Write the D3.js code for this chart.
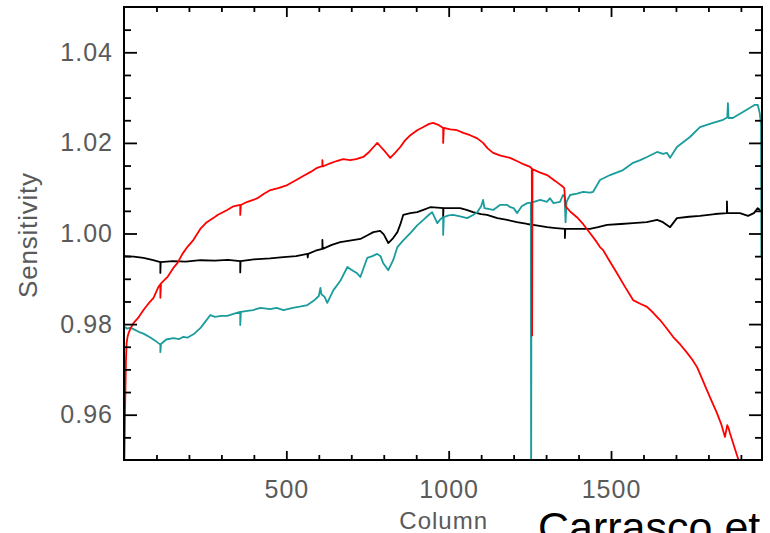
<!DOCTYPE html>
<html><head><meta charset="utf-8">
<script src="https://cdn.jsdelivr.net/npm/d3@7"></script>
<style>body{margin:0;background:#fff} svg{display:block}</style>
</head><body><svg id="chart" width="770" height="533"></svg>
<script>
// ---- data: [column, sensitivity] ----
const blackSeries = [
 [1,0.9950],[30,0.9949],[60,0.9946],[90,0.9941],[112,0.9937],[112,0.9913],[113,0.9937],[150,0.9939],
 [190,0.9938],[235,0.9941],[280,0.9940],[320,0.9942],[358,0.9939],[358,0.9914],[359,0.9939],[400,0.9943],
 [450,0.9945],[491,0.9948],[530,0.9950],[565,0.9955],[566,0.9947],[567,0.9955],[590,0.9962],[611,0.9966],
 [611,0.9986],[612,0.9966],[640,0.9975],[666,0.9981],[700,0.9985],[728,0.9988],[750,0.9996],[768,1.0003],
 [789,1.0006],[800,0.9998],[814,0.9979],[829,0.9990],[842,1.0003],[851,1.0020],[860,1.0041],[882,1.0045],
 [903,1.0047],[922,1.0052],[943,1.0058],[965,1.0057],[983,1.0056],[983,1.0036],[984,1.0056],[1010,1.0056],
 [1035,1.0056],[1055,1.0052],[1075,1.0047],[1100,1.0043],[1118,1.0041],[1150,1.0034],[1180,1.0030],
 [1210,1.0025],[1242,1.0021],[1270,1.0018],[1303,1.0014],[1330,1.0012],[1358,1.0010],[1358,0.9990],
 [1359,1.0010],[1395,1.0010],[1435,1.0010],[1460,1.0014],[1488,1.0019],[1530,1.0021],[1568,1.0023],
 [1610,1.0025],[1642,1.0030],[1660,1.0025],[1682,1.0014],[1703,1.0034],[1740,1.0037],[1774,1.0039],
 [1820,1.0043],[1857,1.0045],[1857,1.0071],[1858,1.0045],[1897,1.0045],[1922,1.0039],[1940,1.0045],
 [1952,1.0056],[1962,1.0050]
];
const tealSeries = [
 [1,0.9794],[10,0.9790],[20,0.9792],[29,0.9789],[45,0.9783],[60,0.9779],[80,0.9771],[95,0.9764],
 [106,0.9758],[112,0.9755],[112,0.9738],[114,0.9756],[130,0.9766],[152,0.9769],[170,0.9767],[183,0.9772],
 [195,0.9770],[215,0.9778],[235,0.9791],[250,0.9805],[266,0.9820],[280,0.9816],[300,0.9818],[318,0.9818],
 [340,0.9823],[358,0.9827],[358,0.9798],[360,0.9827],[380,0.9829],[398,0.9831],[420,0.9836],[450,0.9833],
 [470,0.9836],[491,0.9831],[520,0.9836],[545,0.9839],[565,0.9842],[585,0.9852],[600,0.9862],[605,0.9880],
 [608,0.9866],[618,0.9860],[626,0.9847],[645,0.9875],[666,0.9895],[688,0.9926],[705,0.9918],[718,0.9912],
 [728,0.9904],[749,0.9946],[765,0.9950],[780,0.9955],[790,0.9950],[798,0.9935],[814,0.9919],[829,0.9941],
 [842,0.9970],[860,0.9985],[882,1.0001],[903,1.0018],[922,1.0030],[940,1.0042],[949,1.0047],[965,1.0023],
 [975,1.0032],[983,1.0036],[983,0.9997],[985,1.0036],[1000,1.0040],[1014,1.0041],[1035,1.0038],
 [1057,1.0034],[1075,1.0041],[1088,1.0047],[1100,1.0060],[1106,1.0074],[1110,1.0056],[1137,1.0052],
 [1158,1.0063],[1180,1.0063],[1190,1.0058],[1200,1.0056],[1211,1.0045],[1225,1.0060],[1242,1.0067],
 [1253,1.0068],[1254,0.9400],[1255,1.0068],[1282,1.0074],[1303,1.0070],[1312,1.0078],[1323,1.0067],
 [1343,1.0070],[1352,1.0085],[1357,1.0080],[1360,1.0025],[1363,1.0070],[1374,1.0085],[1395,1.0088],
 [1414,1.0092],[1435,1.0090],[1445,1.0092],[1466,1.0118],[1497,1.0129],[1537,1.0140],[1568,1.0156],
 [1590,1.0162],[1611,1.0169],[1642,1.0180],[1660,1.0176],[1672,1.0178],[1682,1.0167],[1703,1.0191],
 [1743,1.0213],[1774,1.0235],[1814,1.0244],[1845,1.0251],[1858,1.0256],[1860,1.0288],[1862,1.0255],
 [1875,1.0255],[1918,1.0273],[1943,1.0284],[1952,1.0284],[1958,1.0266],[1962,1.0240],[1963,0.9948]
];
const redSeries = [
 [0,0.9440],[3,0.9600],[6,0.9720],[8,0.9758],[11,0.9772],[14,0.9780],[20,0.9790],[29,0.9802],[45,0.9815],
 [60,0.9831],[75,0.9845],[91,0.9858],[106,0.9882],[112,0.9888],[112,0.9858],[114,0.9890],[135,0.9905],
 [152,0.9924],[165,0.9935],[180,0.9955],[195,0.9970],[214,0.9986],[235,1.0010],[255,1.0025],[275,1.0034],
 [288,1.0041],[318,1.0052],[337,1.0060],[358,1.0063],[358,1.0041],[360,1.0063],[380,1.0070],[398,1.0074],
 [411,1.0078],[430,1.0087],[451,1.0096],[475,1.0100],[503,1.0107],[525,1.0116],[552,1.0127],[575,1.0136],
 [595,1.0145],[611,1.0149],[611,1.0162],[612,1.0148],[635,1.0155],[655,1.0160],[675,1.0164],[697,1.0162],
 [715,1.0164],[737,1.0169],[755,1.0180],[770,1.0192],[780,1.0200],[790,1.0192],[805,1.0180],[820,1.0167],
 [835,1.0178],[851,1.0191],[865,1.0205],[882,1.0217],[903,1.0228],[922,1.0235],[940,1.0242],[952,1.0244],
 [968,1.0240],[983,1.0233],[983,1.0200],[985,1.0233],[1005,1.0230],[1026,1.0228],[1045,1.0222],
 [1066,1.0217],[1088,1.0210],[1106,1.0200],[1120,1.0188],[1137,1.0178],[1160,1.0172],[1189,1.0167],
 [1210,1.0160],[1230,1.0153],[1251,1.0147],[1256,1.0143],[1257,0.9775],[1258,1.0142],[1280,1.0135],
 [1303,1.0129],[1330,1.0115],[1352,1.0103],[1356,1.0100],[1360,1.0060],[1375,1.0048],[1395,1.0036],
 [1415,1.0020],[1435,1.0001],[1455,0.9982],[1466,0.9970],[1475,0.9964],[1495,0.9940],[1518,0.9913],
 [1545,0.9880],[1568,0.9853],[1590,0.9845],[1611,0.9838],[1630,0.9825],[1651,0.9809],[1670,0.9792],
 [1691,0.9772],[1713,0.9755],[1735,0.9736],[1750,0.9722],[1765,0.9705],[1780,0.9680],[1795,0.9655],
 [1810,0.9630],[1826,0.9604],[1840,0.9578],[1851,0.9551],[1858,0.9577],[1862,0.9570],[1866,0.9560],
 [1880,0.9528],[1891,0.9504],[1905,0.9470]
];
const xDomain = [0, 1965];
const yDomain = [0.95, 1.05];
const xMajorTicks = [500, 1000, 1500];
const xMinorTicks = [100,200,300,400,600,700,800,900,1100,1200,1300,1400,1600,1700,1800,1900];
const yMajorTicks = [0.96, 0.98, 1.00, 1.02, 1.04];
const yMinorTicks = [0.955,0.965,0.97,0.975,0.985,0.99,0.995,1.005,1.01,1.015,1.025,1.03,1.035,1.045];
const xTitle = "Column";
const yTitle = "Sensitivity";
const caption = "Carrasco et";

// ---- drawing ----
const svg = d3.select("#chart");
const P = {left:124, right:762, top:7, bottom:460};
const x = d3.scaleLinear().domain(xDomain).range([P.left, P.right]);
const y = d3.scaleLinear().domain(yDomain).range([P.bottom, P.top]);

svg.append("defs").append("clipPath").attr("id","clip")
  .append("rect").attr("x",P.left).attr("y",P.top)
  .attr("width",P.right-P.left).attr("height",P.bottom-P.top);

const line = d3.line().x(d=>x(d[0])).y(d=>y(d[1]));
const series = [
  {data: blackSeries, color:"#000000"},
  {data: tealSeries, color:"#1a9c9c"},
  {data: redSeries, color:"#ff0000"}
];
const g = svg.append("g").attr("clip-path","url(#clip)");
series.forEach(s=>{
  g.append("path").datum(s.data).attr("d",line)
   .attr("fill","none").attr("stroke",s.color).attr("stroke-width",1.8)
   .attr("stroke-linejoin","round");
});

const labelFont = "'Liberation Sans', Arial, Helvetica, sans-serif";
function styleAxis(sel){
  sel.select(".domain").remove();
  sel.selectAll(".tick line").attr("stroke","#000").attr("stroke-width",1.8);
  sel.selectAll(".tick text").attr("fill","#5a5a5a").style("font-family",labelFont)
     .style("font-size","25px").style("letter-spacing","1px");
}
// left
svg.append("g").attr("transform",`translate(${P.left},0)`)
  .call(d3.axisLeft(y).tickValues(yMinorTicks).tickSize(-7).tickFormat("")).call(styleAxis);
svg.append("g").attr("transform",`translate(${P.left},0)`)
  .call(d3.axisLeft(y).tickValues(yMajorTicks).tickSize(-13).tickPadding(11).tickFormat(d3.format(".2f"))).call(styleAxis);
// right
svg.append("g").attr("transform",`translate(${P.right},0)`)
  .call(d3.axisRight(y).tickValues(yMinorTicks).tickSize(-7).tickFormat("")).call(styleAxis);
svg.append("g").attr("transform",`translate(${P.right},0)`)
  .call(d3.axisRight(y).tickValues(yMajorTicks).tickSize(-13).tickFormat("")).call(styleAxis);
// bottom
svg.append("g").attr("transform",`translate(0,${P.bottom})`)
  .call(d3.axisBottom(x).tickValues(xMinorTicks).tickSize(-5).tickFormat("")).call(styleAxis);
svg.append("g").attr("transform",`translate(0,${P.bottom})`)
  .call(d3.axisBottom(x).tickValues(xMajorTicks).tickSize(-9).tickPadding(20).tickFormat(d3.format("d"))).call(styleAxis);
// top
svg.append("g").attr("transform",`translate(0,${P.top})`)
  .call(d3.axisTop(x).tickValues(xMinorTicks).tickSize(-5).tickFormat("")).call(styleAxis);
svg.append("g").attr("transform",`translate(0,${P.top})`)
  .call(d3.axisTop(x).tickValues(xMajorTicks).tickSize(-10).tickFormat("")).call(styleAxis);

// frame
svg.append("rect").attr("x",P.left).attr("y",P.top)
  .attr("width",P.right-P.left).attr("height",P.bottom-P.top)
  .attr("fill","none").attr("stroke","#000").attr("stroke-width",2);

// titles
svg.append("text").attr("transform","translate(37,235) rotate(-90)")
  .attr("text-anchor","middle").attr("fill","#5a5a5a")
  .style("font-family",labelFont).style("font-size","26px").style("letter-spacing","0.8px")
  .text(yTitle);
svg.append("text").attr("x",x(1000) - 5).attr("y",529)
  .attr("text-anchor","middle").attr("fill","#5a5a5a")
  .style("font-family",labelFont).style("font-size","24px").style("letter-spacing","1px")
  .text(xTitle);
svg.append("text").attr("x",538).attr("y",542)
  .attr("fill","#000").style("font-family",labelFont).style("font-size","43px")
  .text(caption);
</script></body></html>
